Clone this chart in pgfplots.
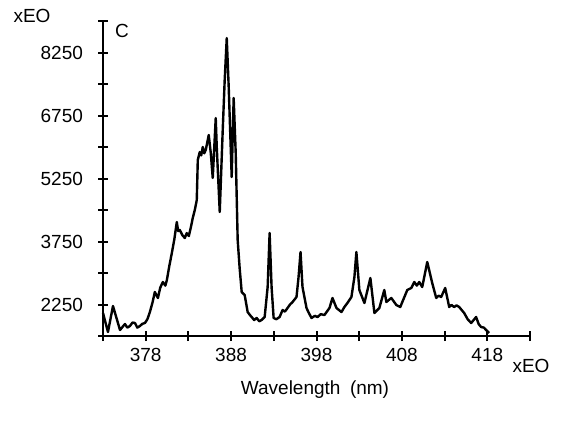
\documentclass[border=0pt]{standalone}
\usepackage{fontspec}
\setmainfont{Liberation Sans}
\usepackage{pgfplots}
\pgfplotsset{compat=1.18}
\begin{document}
\begin{tikzpicture}[font=\fontsize{9.5}{11}\selectfont]
\path[use as bounding box] (-51.5pt,-44pt) rectangle (231pt,168pt);
\begin{axis}[
  at={(0pt,0pt)}, anchor=south west,
  scale only axis, width=213.5pt, height=157.5pt,
  xmin=373, xmax=423, ymin=1500, ymax=9000,
  axis x line=bottom, axis y line=left,
  axis line style={-, line width=1pt},
  xtick={373,378,...,423}, xticklabels={,378,,388,,398,,408,,418,},
  ytick={1500,2250,...,9000}, yticklabels={,2250,,3750,,5250,,6750,,8250,},
  yticklabel style={xshift=-4pt},
  tick align=center, major tick length=5pt,
  tick style={line width=1pt, black},
  scaled ticks=false, /pgf/number format/assume math mode=true,
  clip=false,
]
\addplot[black, line width=1.2pt, line join=round] coordinates {
(373.00,2048) (373.58,1595) (374.17,2214) (374.99,1643) (375.57,1786)
(375.85,1700) (376.15,1738) (376.45,1820) (376.74,1810) (377.02,1700)
(377.32,1738) (377.61,1790) (377.91,1810) (378.20,1900) (378.49,2071)
(378.80,2300) (379.07,2548) (379.43,2405) (379.70,2650) (380.01,2786)
(380.30,2700) (380.48,2833) (380.75,3150) (381.06,3476) (381.35,3800)
(381.64,4214) (381.80,4000) (381.99,4024) (382.30,3900) (382.58,3833)
(382.80,3950) (383.05,3881) (383.30,4100) (383.51,4310) (383.75,4500)
(383.98,4738) (384.10,5690) (384.33,5881) (384.50,5800) (384.68,6000)
(384.85,5850) (385.03,5929) (385.20,6100) (385.38,6286) (385.62,5857)
(385.85,5262) (386.20,6690) (386.32,6000) (386.67,4452) (387.02,6405)
(387.25,7595) (387.49,8595) (387.72,7429) (388.07,5286) (388.30,7167)
(388.54,5857) (388.77,3786) (389.00,3119) (389.24,2548) (389.59,2476)
(389.94,2071) (390.20,2000) (390.41,1952) (390.70,1880) (390.99,1929)
(391.30,1850) (391.57,1881) (391.93,1952) (392.28,2667) (392.51,3952)
(392.74,2667) (392.98,1929) (393.30,1900) (393.68,1952) (394.03,2119)
(394.30,2080) (394.61,2167) (394.90,2250) (395.20,2310) (395.66,2429)
(395.90,2905) (396.13,3500) (396.36,2667) (396.83,2167) (397.10,2050)
(397.42,1929) (397.80,1980) (398.12,1952) (398.50,2020) (398.93,2000)
(399.52,2167) (399.87,2405) (400.34,2167) (400.92,2071) (401.30,2200)
(401.62,2286) (402.09,2429) (402.44,2905) (402.67,3500) (403.02,2595)
(403.61,2286) (404.31,2881) (404.78,2048) (405.36,2167) (405.94,2595)
(406.18,2310) (406.76,2405) (407.35,2238) (407.81,2190) (408.05,2310)
(408.63,2595) (409.10,2643) (409.45,2786) (409.75,2700) (410.03,2786)
(410.38,2667) (410.97,3262) (411.55,2762) (412.02,2405) (412.30,2460)
(412.60,2429) (413.07,2643) (413.54,2190) (413.80,2240) (414.12,2190)
(414.40,2230) (414.71,2190) (415.29,2048) (415.70,1900) (416.11,1810)
(416.40,1880) (416.69,1952) (417.00,1780) (417.28,1714) (417.60,1700)
(417.86,1643) (418.21,1571)
};
\end{axis}
\node at (-35.5pt,160pt) {xEO};
\node at (9.5pt,152.5pt) {C};
\node at (214pt,-15pt) {xEO};
\node at (106pt,-27pt) {Wavelength\enspace(nm)};
\end{tikzpicture}
\end{document}
